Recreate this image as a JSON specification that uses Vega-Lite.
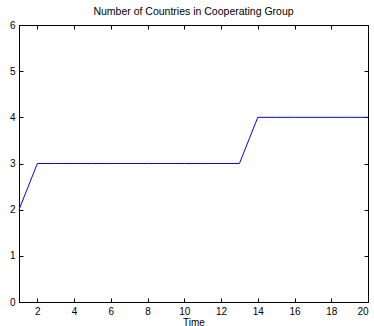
{
  "$schema": "https://vega.github.io/schema/vega-lite/v6.json",
  "autosize": "none",
  "padding": {"left": 19, "top": 25, "right": 6, "bottom": 24},
  "width": 349,
  "height": 277,
  "background": "white",
  "title": {"text": "Number of Countries in Cooperating Group", "font": "Liberation Sans", "fontSize": 10.5, "fontWeight": "normal", "color": "black", "offset": 3},
  "config": {
    "view": {"stroke": "black", "strokeWidth": 1},
    "axis": {"grid": false, "domainColor": "black", "tickColor": "black", "labelColor": "black", "labelFont": "Liberation Sans", "labelFontSize": 10, "titleFont": "Liberation Sans", "titleFontSize": 10, "titleFontWeight": "normal", "titleColor": "black", "tickSize": -4, "labelPadding": 8}
  },
  "data": {"values": [
    {"t": 1, "n": 2}, {"t": 2, "n": 3}, {"t": 3, "n": 3}, {"t": 4, "n": 3}, {"t": 5, "n": 3},
    {"t": 6, "n": 3}, {"t": 7, "n": 3}, {"t": 8, "n": 3}, {"t": 9, "n": 3}, {"t": 10, "n": 3},
    {"t": 11, "n": 3}, {"t": 12, "n": 3}, {"t": 13, "n": 3}, {"t": 14, "n": 4}, {"t": 15, "n": 4},
    {"t": 16, "n": 4}, {"t": 17, "n": 4}, {"t": 18, "n": 4}, {"t": 19, "n": 4}, {"t": 20, "n": 4}
  ]},
  "layer": [
    {
      "mark": {"type": "line", "color": "#0000ff", "strokeWidth": 1},
      "encoding": {
        "x": {"field": "t", "type": "quantitative", "scale": {"domain": [1, 20], "nice": false, "zero": false}, "axis": {"title": "Time", "values": [2,4,6,8,10,12,14,16,18,20], "titlePadding": 1}},
        "y": {"field": "n", "type": "quantitative", "scale": {"domain": [0, 6], "nice": false}, "axis": {"title": null, "values": [0,1,2,3,4,5,6], "labelPadding": 8}}
      }
    },
    {
      "mark": {"type": "line", "opacity": 0},
      "encoding": {
        "x": {"field": "t", "type": "quantitative", "scale": {"domain": [1, 20], "nice": false, "zero": false}, "axis": {"orient": "top", "title": null, "labels": false, "values": [2,4,6,8,10,12,14,16,18,20]}},
        "y": {"field": "n", "type": "quantitative", "scale": {"domain": [0, 6], "nice": false}, "axis": {"orient": "right", "title": null, "labels": false, "values": [0,1,2,3,4,5,6]}}
      }
    }
  ],
  "resolve": {"axis": {"x": "independent", "y": "independent"}}
}
